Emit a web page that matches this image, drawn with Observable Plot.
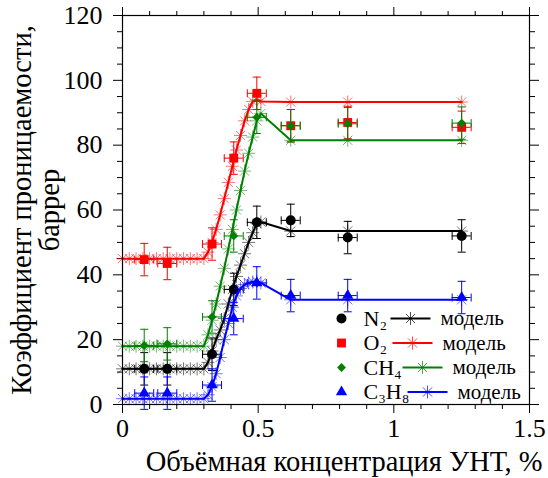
<!DOCTYPE html>
<html><head><meta charset="utf-8">
<script src="https://cdn.jsdelivr.net/npm/d3@7"></script>
<script src="https://cdn.jsdelivr.net/npm/@observablehq/plot@0.6"></script>
<style>
html,body{margin:0;padding:0;background:#fff}
#chart svg, #chart svg text { font-family: "Liberation Serif", serif !important; }
</style>
</head><body><div id="chart"></div>
<script>
// ---- data ----
const gases = ["N₂", "O₂", "CH₄", "C₃H₈"];
const modelLabel = "модель";
const xTitle = "Объёмная концентрация УНТ, %";
const yTitle = "Коэффициент проницаемости,\nбаррер";
const xMajor = [0, 0.5, 1, 1.5];
const yMajor = [0, 20, 40, 60, 80, 100, 120];

// experimental points (markers with error bars)
const xExp = [0.08, 0.165, 0.33, 0.41, 0.495, 0.62, 0.83, 1.25];
const n2Exp = [11, 11, 15.5, 35.5, 56.2, 56.8, 51.5, 52];
const o2Exp = [44.7, 43.5, 49.5, 76, 96, 86, 87, 85.5];
const ch4Exp = [18.2, 18.7, 27, 52, 88.6, 86, 86.6, 86.8];
const c3h8Exp = [3.5, 3.5, 6, 26.5, 37.5, 33.6, 33.6, 33];
const yErr = 5;
const xErr = 0.035;

// model curves (lines with star markers)
const xModel = [0, 0.025, 0.05, 0.075, 0.1, 0.125, 0.15, 0.175, 0.2, 0.225, 0.25, 0.275, 0.3,
  0.315, 0.33, 0.345, 0.36, 0.375, 0.39, 0.405, 0.42, 0.435, 0.45, 0.465, 0.48, 0.495, 0.51,
  0.62, 0.83, 1.25];
const n2Model = [11, 11, 11, 11, 11, 11, 11, 11, 11, 11, 11, 11, 11,
  13, 16.5, 20, 23, 26.5, 31, 35.5, 39.5, 43, 46.5, 50, 53, 55.8, 56.3,
  53.5, 53.5, 53.5];
const o2Model = [45, 45, 45, 45, 45, 45, 45, 45, 45, 45, 45, 45, 45,
  47, 50, 54, 58.5, 63.5, 68.5, 73.5, 78.5, 83, 87.5, 91, 93.5, 94, 93.5,
  93.3, 93.3, 93.3];
const ch4Model = [18, 18, 18, 18, 18, 18, 18, 18, 18, 18, 18, 18, 18,
  21.5, 26, 31, 36.5, 42, 48, 54, 60, 66, 72, 77.5, 82.5, 87.5, 89.8,
  81.5, 81.5, 81.5];
const c3h8Model = [1.8, 1.8, 1.8, 1.8, 1.8, 1.8, 1.8, 1.8, 1.8, 1.8, 1.8, 1.8, 1.8,
  3, 5.5, 9.5, 14.5, 20, 25, 30, 33.5, 35.8, 37, 37.5, 37.8, 38, 37.5,
  32.3, 32.3, 32.3];

// ---- styling ----
const FONT = "Liberation Serif, serif";
const colors = ["#000000", "#ff0000", "#008000", "#0000ff"];
const expY = [n2Exp, o2Exp, ch4Exp, c3h8Exp];
const modelY = [n2Model, o2Model, ch4Model, c3h8Model];

const star8 = {draw(ctx, size) {
  const r = Math.sqrt(size / Math.PI), d = r * Math.SQRT1_2;
  ctx.moveTo(0, -r); ctx.lineTo(0, r);
  ctx.moveTo(-r, 0); ctx.lineTo(r, 0);
  ctx.moveTo(-d, -d); ctx.lineTo(d, d);
  ctx.moveTo(-d, d); ctx.lineTo(d, -d);
}};
const hSeg = {draw(ctx, size) { const r = Math.sqrt(size / Math.PI); ctx.moveTo(-r, 0); ctx.lineTo(r, 0); }};
const vSeg = {draw(ctx, size) { const r = Math.sqrt(size / Math.PI); ctx.moveTo(0, -r); ctx.lineTo(0, r); }};
const expSymbols = ["circle", "square", "diamond2", "triangle"];
const expR = [5, 5, 4, 4.2];

const xMinor = d3.range(0, 1.5001, 0.1).filter(v => Math.abs(v * 2 - Math.round(v * 2)) > 1e-6);
const yMinor = d3.range(0, 120.001, 5).filter(v => v % 20 !== 0);

const marks = [];
gases.forEach((g, i) => {
  const c = colors[i];
  const model = xModel.map((x, j) => ({x, y: modelY[i][j]}));
  const exp = xExp.map((x, j) => ({x, y: expY[i][j]}));
  marks.push(
    Plot.line(model, {x: "x", y: "y", stroke: c, strokeWidth: 2}),
    Plot.dot(model, {x: "x", y: "y", symbol: star8, r: 6.5, fill: "none", stroke: c, strokeWidth: 1, strokeOpacity: 0.55}),
    Plot.ruleX(exp, {x: "x", y1: d => d.y - yErr, y2: d => d.y + yErr, stroke: c, strokeWidth: 1}),
    Plot.ruleY(exp, {y: "y", x1: d => d.x - xErr, x2: d => d.x + xErr, stroke: c, strokeWidth: 1}),
    Plot.dot(exp, {x: "x", y: d => d.y + yErr, symbol: hSeg, r: 4, fill: "none", stroke: c, strokeWidth: 1}),
    Plot.dot(exp, {x: "x", y: d => d.y - yErr, symbol: hSeg, r: 4, fill: "none", stroke: c, strokeWidth: 1}),
    Plot.dot(exp, {x: d => d.x - xErr, y: "y", symbol: vSeg, r: 4, fill: "none", stroke: c, strokeWidth: 1}),
    Plot.dot(exp, {x: d => d.x + xErr, y: "y", symbol: vSeg, r: 4, fill: "none", stroke: c, strokeWidth: 1}),
    Plot.dot(exp, {x: "x", y: "y", symbol: expSymbols[i], r: expR[i], fill: c, stroke: "none"})
  );
});

// legend (inside the frame, lower right)
const legendShift = [0, 2, 12, 17];
gases.forEach((g, i) => {
  const c = colors[i];
  const dy = 303 + 24.5 * i;
  const ls = legendShift[i];
  marks.push(
    Plot.dot([0], {frameAnchor: "top-left", dx: 219, dy, symbol: expSymbols[i], r: expR[i], fill: c, stroke: "none"}),
    Plot.text([g], {frameAnchor: "top-left", dx: 241, dy, text: d => d, textAnchor: "start", lineAnchor: "middle", fontSize: 22, fontFamily: FONT}),
    Plot.dot([0], {frameAnchor: "top-left", dx: 288 + ls, dy, symbol: hSeg, r: 20, fill: "none", stroke: c, strokeWidth: 2}),
    Plot.dot([0], {frameAnchor: "top-left", dx: 288 + ls, dy, symbol: star8, r: 6.5, fill: "none", stroke: c, strokeWidth: 1, strokeOpacity: 0.7}),
    Plot.text([modelLabel], {frameAnchor: "top-left", dx: 318 + ls, dy, text: d => d, textAnchor: "start", lineAnchor: "middle", fontSize: 21, fontFamily: FONT})
  );
});

const chart = Plot.plot({
  width: 548,
  height: 478,
  marginLeft: 122,
  marginRight: 19,
  marginTop: 15,
  marginBottom: 74,
  style: {fontFamily: FONT, fontSize: "26px", background: "#fff", color: "#000"},
  x: {domain: [0, 1.5]},
  y: {domain: [0, 120]},
  marks: [
    Plot.axisX({anchor: "bottom", ticks: xMajor, tickSize: 9, tickPadding: 5, tickFormat: d => String(d), label: null, fontSize: 26, fontFamily: FONT}),
    Plot.axisX({anchor: "bottom", ticks: xMinor, tickSize: 5, tickFormat: () => "", label: null}),
    Plot.axisX({anchor: "top", ticks: xMajor, tickSize: 9, tickFormat: () => "", label: null}),
    Plot.axisX({anchor: "top", ticks: xMinor, tickSize: 5, tickFormat: () => "", label: null}),
    Plot.axisY({anchor: "left", ticks: yMajor, tickSize: 9, tickPadding: 11, tickFormat: d => String(d), label: null, fontSize: 26, fontFamily: FONT}),
    Plot.axisY({anchor: "left", ticks: yMinor, tickSize: 5, tickFormat: () => "", label: null}),
    Plot.axisY({anchor: "right", ticks: yMajor, tickSize: 9, tickFormat: () => "", label: null}),
    Plot.axisY({anchor: "right", ticks: yMinor, tickSize: 5, tickFormat: () => "", label: null}),
    ...marks,
    Plot.frame({stroke: "#000", strokeWidth: 1.2}),
    Plot.text([xTitle], {frameAnchor: "bottom", dx: 18, dy: 57, text: d => d, lineAnchor: "middle", fontSize: 28.5, fontFamily: FONT}),
    Plot.text([yTitle], {frameAnchor: "left", dx: -86, rotate: -90, text: d => d, lineAnchor: "middle", textAnchor: "middle", lineHeight: 0.98, fontSize: 28.5, fontFamily: FONT})
  ]
});
document.getElementById("chart").appendChild(chart);
</script>
</body></html>
